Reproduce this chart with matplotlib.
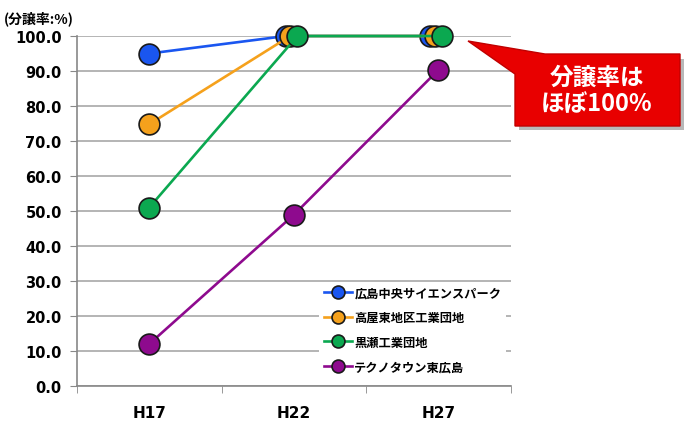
import matplotlib.pyplot as plt
from matplotlib.patches import Polygon

plt.rcParams['font.family'] = ['Noto Sans CJK JP', 'DejaVu Sans']

# data
years = ['H17', 'H22', 'H27']
names = ['広島中央サイエンスパーク', '高屋東地区工業団地', '黒瀬工業団地', 'テクノタウン東広島']
science_park = [95.0, 100.0, 100.0]
takaya = [74.8, 100.0, 100.0]
kurose = [51.0, 100.0, 100.0]
technotown = [12.0, 48.9, 90.3]
series = [science_park, takaya, kurose, technotown]

colors = ['#1a56f0', '#f5a11c', '#0ba850', '#8e0a8e']
shift = [-0.055, -0.025, 0.025, 0.0]   # nudge so the stacked dots at 100 show

fig = plt.figure(figsize=(6.85, 4.27), dpi=100)
ax = fig.add_axes([0.1124, 0.0937, 0.633, 0.8196])

for vals, name, c, s in zip(series, names, colors, shift):
    xs = [i + (s if i > 0 else 0) for i in range(len(vals))]
    ax.plot(xs, vals, color=c, lw=1.9, marker='o', ms=15, mfc=c,
            mec='#1a1a1a', mew=1.2, label=name, zorder=3, clip_on=False)

ax.set_xlim(-0.5, 2.5)
ax.set_ylim(0, 100)
ax.set_yticks(range(0, 101, 10))
ax.set_yticklabels(['%.1f' % v for v in range(0, 101, 10)],
                   fontsize=10.5, fontweight='bold', family='DejaVu Sans')
ax.set_xticks(range(3))
ax.set_xticklabels(years, fontsize=11, fontweight='bold', family='DejaVu Sans')
ax.set_xticks([-0.5, 0.5, 1.5, 2.5], minor=True)
ax.tick_params(axis='x', which='major', length=0, pad=14)
ax.tick_params(axis='x', which='minor', length=5, color='#888888')
ax.tick_params(axis='y', length=5, color='#888888', pad=6)
ax.grid(axis='y', color='#a0a0a0', lw=1.1)
ax.set_axisbelow(True)
for sp in ['top', 'right']:
    ax.spines[sp].set_visible(False)
for sp in ['left', 'bottom']:
    ax.spines[sp].set_color('#888888')
    ax.spines[sp].set_linewidth(1.2)

leg = ax.legend(loc='lower left', bbox_to_anchor=(0.545, 0.005), frameon=True,
                markerscale=0.62, handlelength=2.3, borderpad=0.4, labelspacing=0.95,
                handletextpad=0.15, prop={'weight': 'bold', 'size': 8.8})
leg.get_frame().set_edgecolor('none')
leg.get_frame().set_facecolor('white')
leg.get_frame().set_alpha(1)
leg.set_zorder(5)

fig.text(0.005, 0.955, '(分譲率:%)', fontsize=10, fontweight='bold', ha='left', va='center')

# callout
tip = (468 / 685, 1 - 42 / 427)
shadow = Polygon([(519 / 685, 1 - 60 / 427), (684 / 685, 1 - 60 / 427),
                  (684 / 685, 1 - 131 / 427), (519 / 685, 1 - 131 / 427)],
                 closed=True, transform=fig.transFigure, fc='#8a8a8a', ec='none', alpha=0.6)
fig.patches.append(shadow)
box = Polygon([tip, (545 / 685, 1 - 55 / 427), (680 / 685, 1 - 55 / 427),
               (680 / 685, 1 - 127 / 427), (515 / 685, 1 - 127 / 427),
               (515 / 685, 1 - 75 / 427)],
              closed=True, transform=fig.transFigure, fc='#e80000', ec='#c00000', lw=1)
fig.patches.append(box)
fig.text(597 / 685, 1 - 91 / 427, '分譲率は\nほぼ100%', color='white', fontsize=17,
         fontweight='bold', ha='center', va='center', linespacing=1.1)

fig.savefig('out.png', dpi=100)
